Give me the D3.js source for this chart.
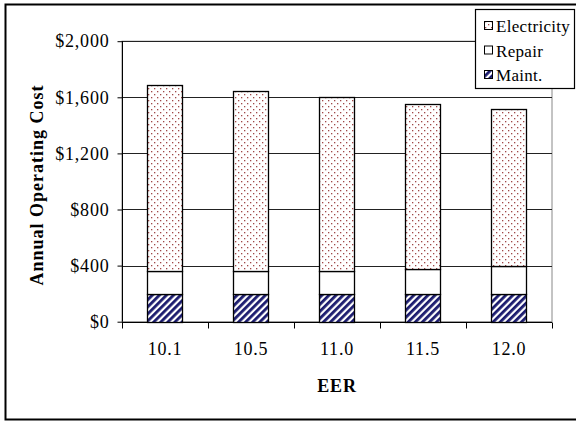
<!DOCTYPE html>
<html><head><meta charset="utf-8">
<script src="https://cdn.jsdelivr.net/npm/d3@7"></script>
<style>body{margin:0;background:#fff}svg{display:block}</style>
</head><body><svg id="c" width="576" height="421"></svg>
<script>
const categories = ["10.1","10.5","11.0","11.5","12.0"];
const maint = [200,200,200,200,200];
const repair = [160,160,160,175,195];
const electricity = [1330,1285,1240,1175,1125];
const seriesNames = ["Maint.","Repair","Electricity"];
const yTicks = [0,400,800,1200,1600,2000];

const FONT = "'Liberation Serif','Times New Roman',serif";
const svg = d3.select("#c");
const W=576,H=421;
const m={left:122,right:552,top:41.2,bottom:321.7};
const defs = svg.append("defs");
const pd = defs.append("pattern").attr("id","dots").attr("patternUnits","userSpaceOnUse").attr("width",6).attr("height",6);
pd.append("rect").attr("width",6).attr("height",6).attr("fill","#fff");
pd.append("rect").attr("x",1).attr("y",1).attr("width",1.3).attr("height",1.3).attr("fill","#a04848");
pd.append("rect").attr("x",4).attr("y",4).attr("width",1.3).attr("height",1.3).attr("fill","#a04848");
const ps = defs.append("pattern").attr("id","stripes").attr("patternUnits","userSpaceOnUse").attr("width",5).attr("height",5).attr("patternTransform","rotate(45)");
ps.append("rect").attr("width",5).attr("height",5).attr("fill","#fff");
ps.append("rect").attr("width",2.8).attr("height",5).attr("fill","#1a1a6e");
const fills={"Maint.":"url(#stripes)","Repair":"#fff","Electricity":"url(#dots)"};

svg.append("rect").attr("x",5.5).attr("y",4.5).attr("width",W+10).attr("height",415).attr("fill","#fff").attr("stroke","#000").attr("stroke-width",2);

const x = d3.scaleBand().domain(categories).range([m.left,m.right]).paddingInner(0.59).paddingOuter(0.295);
const y = d3.scaleLinear().domain([0,2000]).range([m.bottom,m.top]);

svg.append("rect").attr("x",m.left).attr("y",y(2000)).attr("width",m.right-m.left).attr("height",y(0)-y(2000)).attr("fill","none").attr("stroke","#888").attr("stroke-width",1);
svg.append("g").selectAll("line").data(yTicks.filter(d=>d>0)).join("line")
  .attr("x1",m.left).attr("x2",m.right).attr("y1",d=>Math.round(y(d))+0.5).attr("y2",d=>Math.round(y(d))+0.5)
  .attr("stroke","#222").attr("stroke-width",1);

const rows = categories.map((c,i)=>({cat:c,"Maint.":maint[i],"Repair":repair[i],"Electricity":electricity[i]}));
const stack = d3.stack().keys(seriesNames)(rows);
svg.append("g").selectAll("g").data(stack).join("g").attr("fill",s=>fills[s.key])
  .selectAll("rect").data(s=>s).join("rect")
  .attr("x",d=>Math.round(x(d.data.cat))+0.5).attr("width",Math.round(x.bandwidth()))
  .attr("y",d=>Math.round(y(d[1]))+0.5).attr("height",d=>Math.round(y(d[0]))-Math.round(y(d[1])))
  .attr("stroke","#000").attr("stroke-width",1.3);

const ya = d3.axisLeft(y).tickValues(yTicks).tickSize(5).tickPadding(8).tickFormat(d=>"$"+d3.format(",")(d));
const gy = svg.append("g").attr("transform",`translate(${m.left+0.5},0)`).call(ya);
gy.attr("font-family",FONT);
gy.select(".domain").attr("d",`M-0,${m.top}V${m.bottom}`).attr("stroke","#000");
gy.selectAll(".tick line").attr("stroke","#000");
gy.selectAll("text").attr("font-family",FONT).attr("font-size",18).attr("letter-spacing",0.8).attr("fill","#000");

const gx = svg.append("g").attr("transform",`translate(0,${Math.round(m.bottom)+0.5})`);
gx.append("line").attr("x1",m.left).attr("x2",m.right).attr("stroke","#000");
const bounds = d3.range(categories.length+1).map(i=>m.left+i*(m.right-m.left)/categories.length);
gx.selectAll("line.t").data(bounds).join("line").attr("class","t")
  .attr("x1",d=>Math.round(d)+0.5).attr("x2",d=>Math.round(d)+0.5).attr("y1",0).attr("y2",6).attr("stroke","#000");
gx.selectAll("text").data(categories).join("text")
  .attr("x",d=>x(d)+x.bandwidth()/2).attr("y",32).attr("text-anchor","middle")
  .attr("font-family",FONT).attr("font-size",18).attr("letter-spacing",0.8).text(d=>d);

svg.append("text").attr("x",(m.left+m.right)/2).attr("y",392).attr("text-anchor","middle")
  .attr("font-family",FONT).attr("font-size",18).attr("letter-spacing",0.8).attr("font-weight","bold").text("EER");
svg.append("text").attr("transform",`translate(43,185) rotate(-90)`).attr("text-anchor","middle")
  .attr("font-family",FONT).attr("font-size",18).attr("letter-spacing",1).attr("font-weight","bold").text("Annual Operating Cost");

const lg = svg.append("g");
lg.append("rect").attr("x",475.5).attr("y",9.5).attr("width",99).attr("height",79).attr("fill","#fff").attr("stroke","#000").attr("stroke-width",1.2);
const legItems = ["Electricity","Repair","Maint."];
const li = lg.append("g").selectAll("g").data(legItems).join("g")
  .attr("transform",(d,i)=>`translate(484,${26+i*24.5})`);
li.append("rect").attr("x",0.5).attr("y",-4.5).attr("width",8).attr("height",8).attr("fill",d=>fills[d]).attr("stroke","#000");
li.append("text").attr("x",12).attr("y",6).attr("font-family",FONT).attr("font-size",17).attr("letter-spacing",0.3).text(d=>d);
</script></body></html>
